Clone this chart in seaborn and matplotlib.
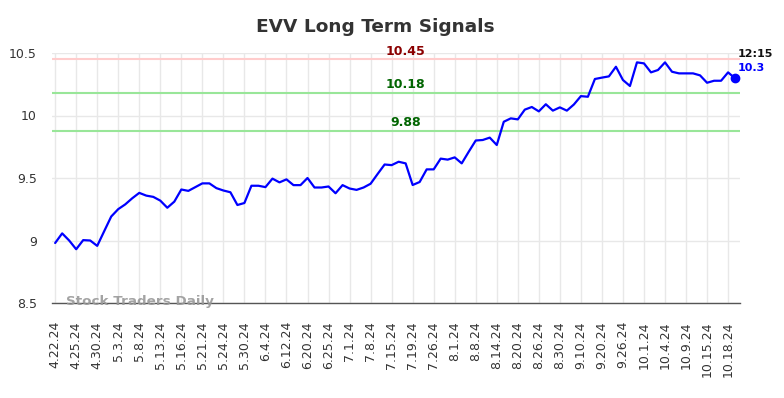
import numpy as np
import pandas as pd
import matplotlib
matplotlib.use("Agg")
import matplotlib.pyplot as plt
import seaborn as sns

tick_labels = ["4.22.24", "4.25.24", "4.30.24", "5.3.24", "5.8.24", "5.13.24", "5.16.24",
               "5.21.24", "5.24.24", "5.30.24", "6.4.24", "6.12.24", "6.20.24", "6.25.24",
               "7.1.24", "7.8.24", "7.15.24", "7.19.24", "7.26.24", "8.1.24", "8.8.24",
               "8.14.24", "8.20.24", "8.26.24", "8.30.24", "9.10.24", "9.20.24", "9.26.24",
               "10.1.24", "10.4.24", "10.9.24", "10.15.24", "10.18.24"]

prices = [8.98, 9.057, 9.0, 8.93, 9.003, 9.0, 8.957, 9.075, 9.192, 9.251,
          9.289, 9.338, 9.381, 9.359, 9.349, 9.319, 9.262, 9.311, 9.408, 9.397,
          9.427, 9.457, 9.457, 9.419, 9.40, 9.386, 9.284, 9.30, 9.438, 9.438,
          9.427, 9.495, 9.465, 9.489, 9.443, 9.443, 9.50, 9.424, 9.424, 9.432,
          9.378, 9.443, 9.416, 9.405, 9.424, 9.454, 9.532, 9.608, 9.603, 9.63,
          9.617, 9.444, 9.468, 9.569, 9.569, 9.655, 9.647, 9.665, 9.617, 9.71,
          9.80, 9.804, 9.823, 9.764, 9.95, 9.977, 9.969, 10.047, 10.068, 10.033,
          10.09, 10.039, 10.065, 10.039, 10.088, 10.155, 10.15, 10.292, 10.303, 10.313,
          10.39, 10.284, 10.236, 10.425, 10.417, 10.345, 10.364, 10.425, 10.35, 10.337,
          10.337, 10.337, 10.321, 10.262, 10.278, 10.278, 10.345, 10.297]

resistance = 10.45
supports = [10.18, 9.88]
last_time = "12:15"
last_label = "10.3"
title = "EVV Long Term Signals"
watermark = "Stock Traders Daily"

df = pd.DataFrame({"idx": np.arange(len(prices)), "price": prices})

sns.set_theme(style="whitegrid")
plt.rcParams['font.family'] = ['DejaVu Sans']

fig = plt.figure(figsize=(7.84, 3.98), dpi=100)
ax = fig.add_axes([52/784, 1 - 303/398, (740-52)/784, (303-53)/398])

ax.axhline(resistance, color="#ffcccc", lw=1.5, zorder=1)
for s in supports:
    ax.axhline(s, color="#99e699", lw=1.5, zorder=1)

sns.lineplot(data=df, x="idx", y="price", ax=ax, color="#0000ff", lw=1.6, zorder=3)
ax.scatter([df["idx"].iloc[-1]], [df["price"].iloc[-1]], s=36, color="#0000ff", zorder=4)

ax.set_xlim(-0.45, 97.7)
ax.set_ylim(8.5, 10.5)
ax.set_yticks([8.5, 9, 9.5, 10, 10.5])
ax.set_yticklabels(["8.5", "9", "9.5", "10", "10.5"], fontsize=9, color="#333333")
ax.set_xticks(np.arange(0, 3 * len(tick_labels), 3))
ax.set_xticklabels(tick_labels, rotation=90, fontsize=9, color="#333333")
ax.set_xlabel("")
ax.set_ylabel("")
ax.tick_params(axis="x", length=0, pad=13)
ax.tick_params(axis="y", length=0, pad=11)
ax.grid(True, color="#e8e8e8", lw=1)

for sp in ["left", "right", "top"]:
    ax.spines[sp].set_visible(False)
ax.spines["bottom"].set_color("#555555")
ax.spines["bottom"].set_linewidth(1)

xmid = 50
ax.text(xmid, resistance + 0.012, f"{resistance:.2f}", color="#8b0000", fontsize=9,
        fontweight="bold", ha="center", va="bottom")
for s in supports:
    ax.text(xmid, s + 0.012, f"{s:.2f}", color="#006400", fontsize=9,
            fontweight="bold", ha="center", va="bottom")

ax.text(97.4, 10.45, last_time, color="#111111", fontsize=8, fontweight="bold",
        ha="left", va="bottom", clip_on=False)
ax.text(97.4, 10.38, last_label, color="#0000ff", fontsize=8, fontweight="bold",
        ha="left", va="center", clip_on=False)

ax.text(1.5, 8.508, watermark, color="#999999", fontsize=9.7, fontweight="bold",
        ha="left", va="center", alpha=0.9)

fig.text(375/784, 1 - 27/398, title, ha="center", va="center", fontsize=13.3,
         fontweight="bold", color="#333333")

fig.savefig("out.png", dpi=100)
